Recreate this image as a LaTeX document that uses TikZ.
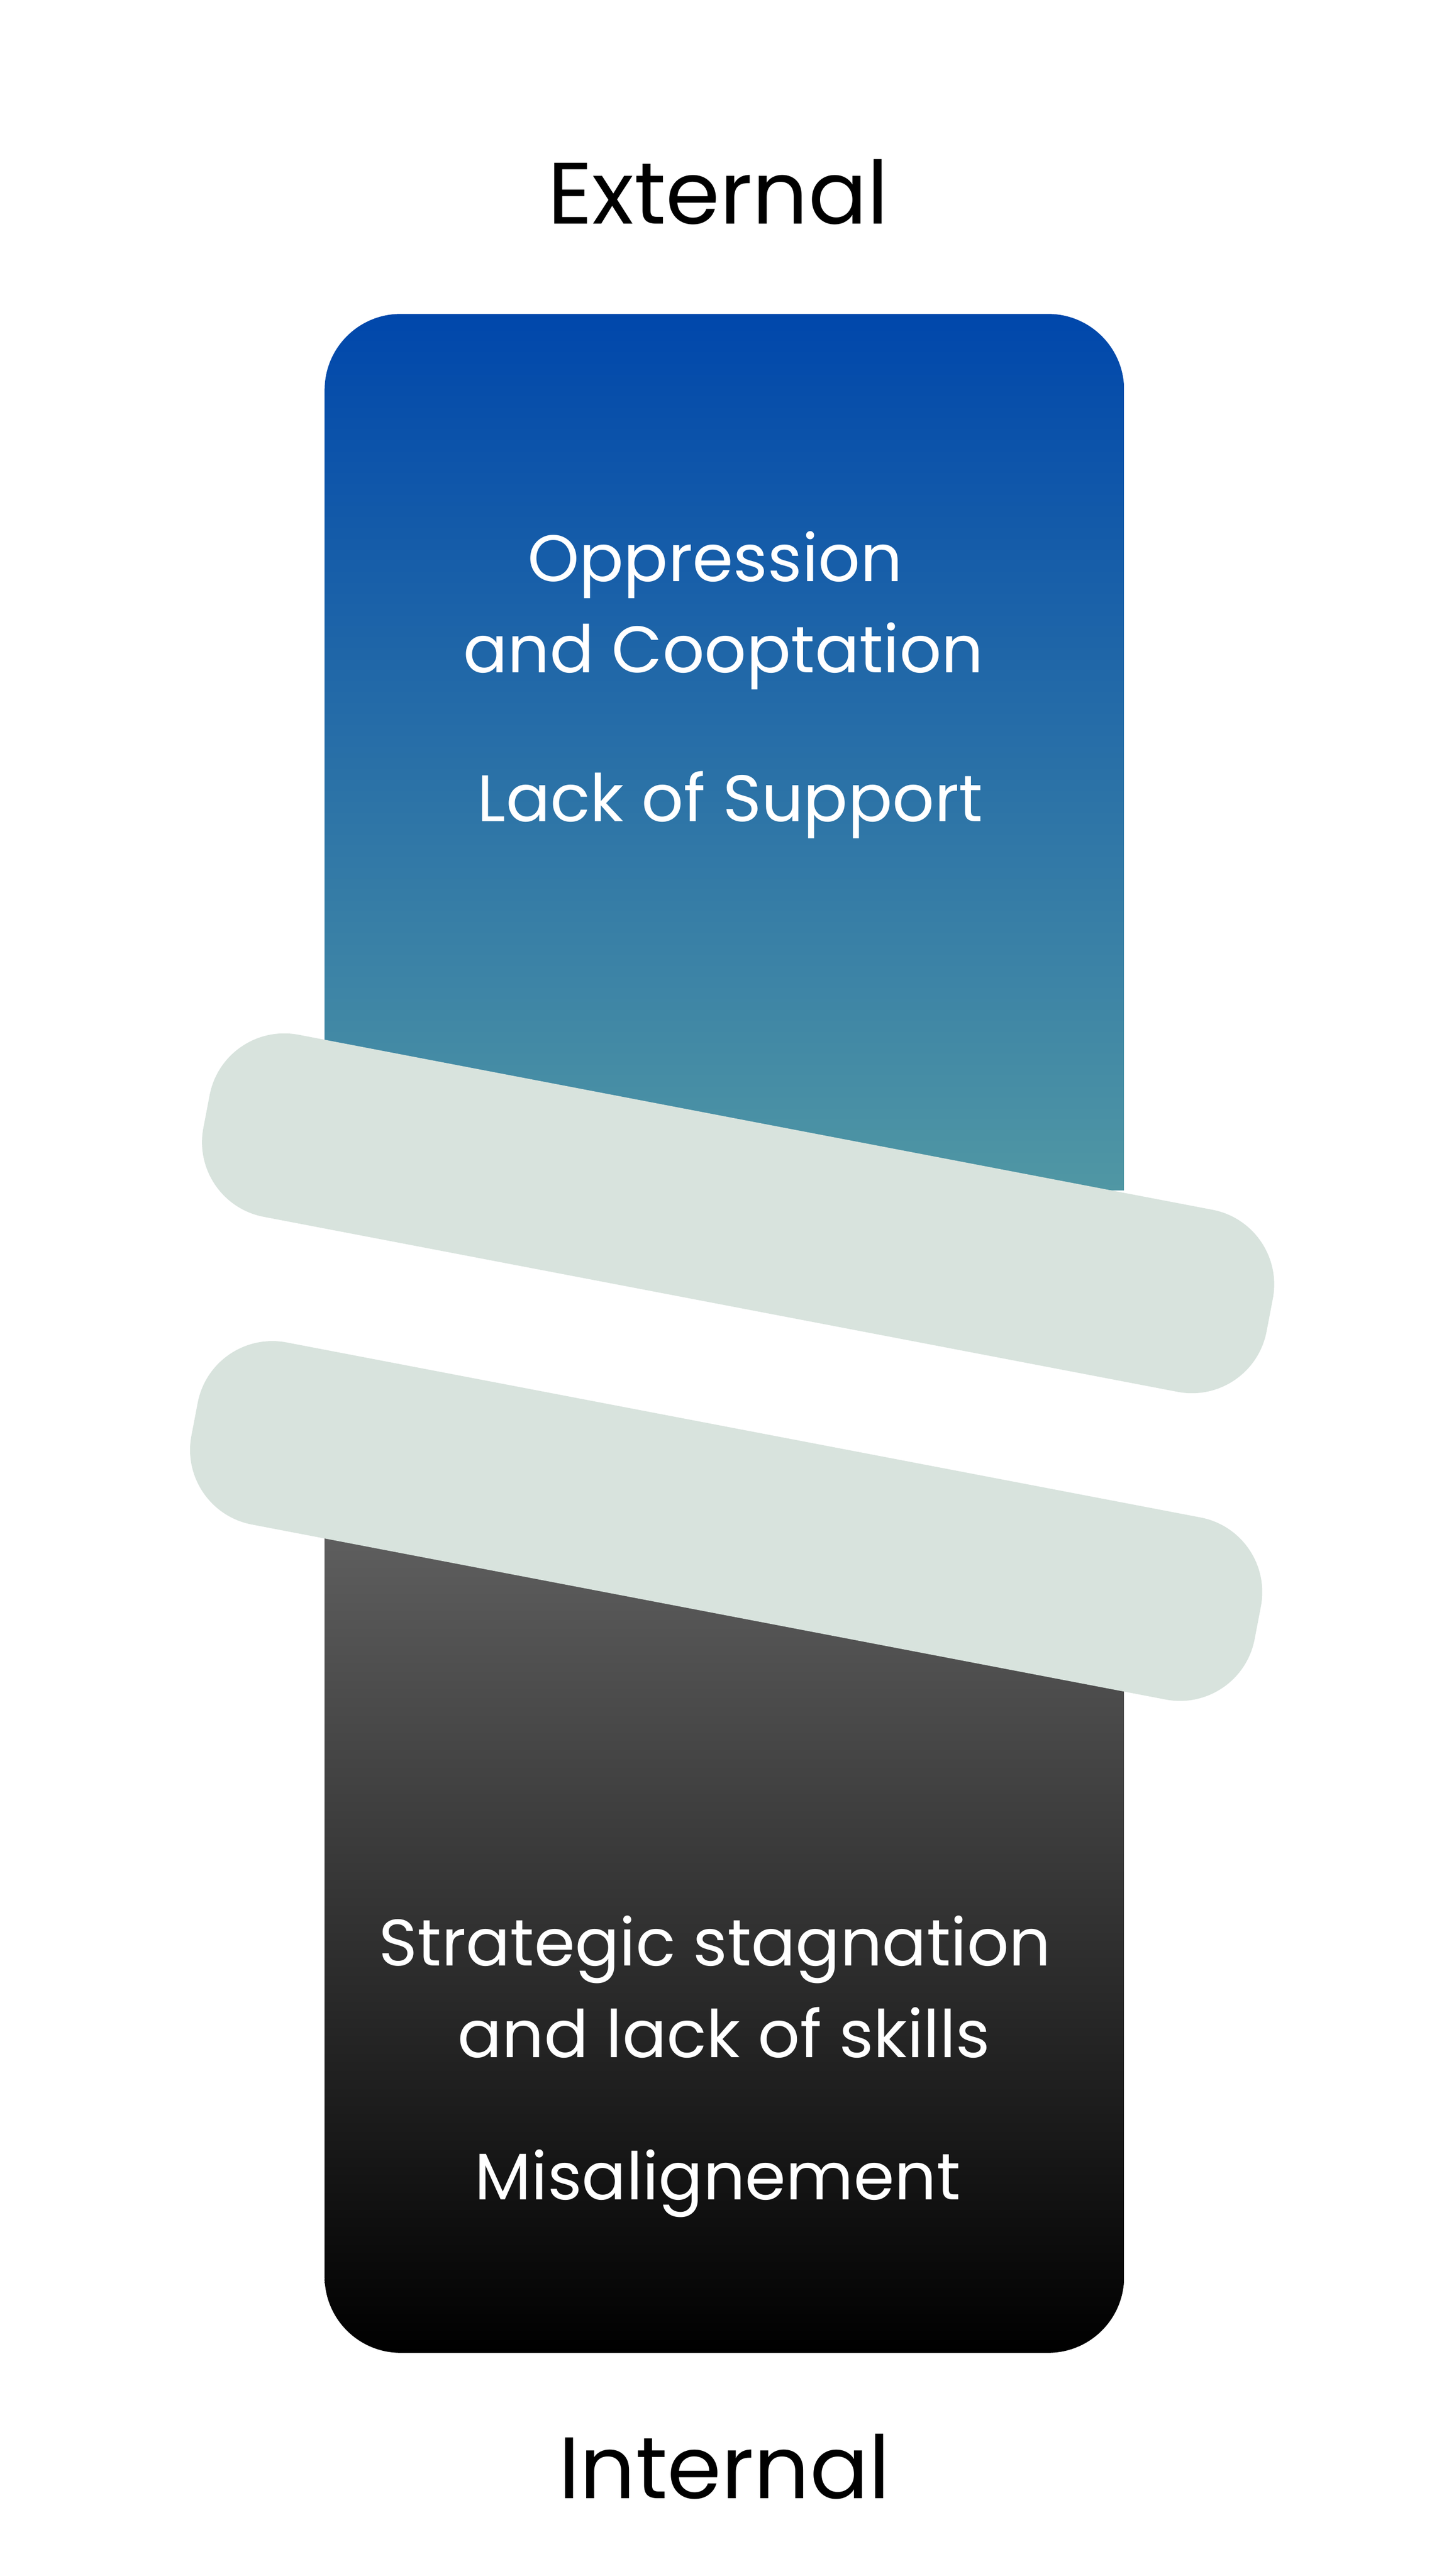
\documentclass[tikz,border=0pt]{standalone}
\usepackage{fontspec}
\setmainfont{Poppins}
\definecolor{topblue}{HTML}{0047AB}
\definecolor{topteal}{HTML}{5097A4}
\definecolor{botgray}{HTML}{616161}
\definecolor{botblack}{HTML}{000000}
\definecolor{bandcol}{HTML}{D8E3DD}
\tikzset{
  band/.style={fill=bandcol, draw=none, rounded corners=17pt, minimum width=242.1pt, minimum height=41.45pt, inner sep=0pt, rotate=-10.84},
  outerlbl/.style={font=\fontsize{19.5pt}{23pt}\selectfont, text=black, inner sep=0pt, anchor=base},
  innerlbl/.style={font=\fontsize{14.7pt}{18pt}\selectfont, text=white, inner sep=0pt, anchor=base}
}
\begin{document}
\begin{tikzpicture}[x=1pt,y=1pt]
\fill[white] (0,0) rectangle (324,576);
\useasboundingbox (0,0) rectangle (324,576);
% top box
\shade[top color=topblue, bottom color=topteal]
  (72.6,309.8) -- (72.6,488.8) arc[start angle=180, end angle=90, radius=17]
  -- (234.4,505.8) arc[start angle=90, end angle=0, radius=17] -- (251.4,309.8) -- cycle;
% bottom box
\shade[top color=botgray, bottom color=botblack]
  (72.6,238) -- (72.6,66.9) arc[start angle=180, end angle=270, radius=17]
  -- (234.4,49.9) arc[start angle=270, end angle=360, radius=17] -- (251.4,238) -- cycle;
% bands
\node[band] (band1) at (165.07,304.7) {};
\node[band] (band2) at (162.4,235.9) {};
% labels
\node[outerlbl] (ext) at (160.6,525.9) {External};
\node[innerlbl] (t1) at (159.9,446.0) {Oppression};
\node[innerlbl] (t2) at (161.8,425.6) {and Cooptation};
\node[innerlbl] (t3) at (163.3,392.3) {Lack of Support};
\node[innerlbl] (b1) at (159.9,136.4) {Strategic stagnation};
\node[innerlbl] (b2) at (161.9,115.9) {and lack of skills};
\node[innerlbl] (b3) at (160.5,84.2) {Misalignement};
\node[outerlbl] (int) at (162.0,17.3) {Internal};
\end{tikzpicture}
\end{document}
